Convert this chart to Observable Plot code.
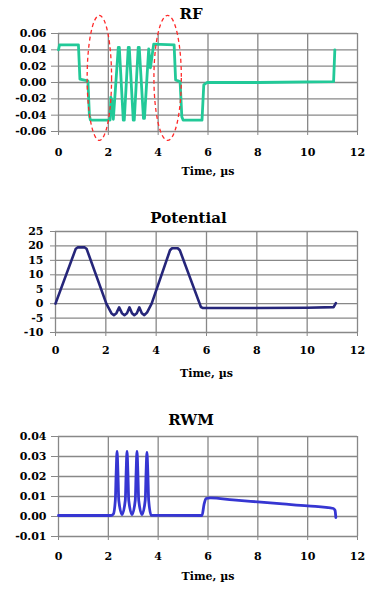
<!DOCTYPE html>
<html>
<head>
<meta charset="utf-8">
<script src="https://cdn.jsdelivr.net/npm/d3@7"></script>
<script src="https://cdn.jsdelivr.net/npm/@observablehq/plot@0.6"></script>
<style>
  html, body { margin: 0; padding: 0; background: #fff; }
  #charts svg { display: block; }
</style>
</head>
<body>
<div id="charts"></div>
<script>
// ---- shared x axis ----
const xTicks = [0, 2, 4, 6, 8, 10, 12];
const xTickLabels = ["0", "2", "4", "6", "8", "10", "12"];
const xAxisTitle = "Time, µs";

// ---- RF ----
const rfTitle = "RF";
const rfTicks = [-0.06, -0.04, -0.02, 0, 0.02, 0.04, 0.06];
const rfTickLabels = ["-0.06", "-0.04", "-0.02", "0.00", "0.02", "0.04", "0.06"];
const rfTime  = [0, 0.04, 0.80, 0.86, 1.18, 1.24, 1.28, 2.07, 2.10, 2.14, 2.20, 2.40, 2.44, 2.60, 2.64, 2.80, 2.84, 3.00, 3.04, 3.20, 3.24, 3.41, 3.45, 3.62, 3.69, 3.82, 4.64, 4.70, 4.88, 4.95, 5.00, 5.76, 5.83, 5.96, 8.00, 11.04, 11.09];
const rfValue = [0.040, 0.046, 0.046, 0.004, 0.002, -0.040, -0.046, -0.046, -0.018, -0.022, -0.045, 0.043, 0.043, -0.046, -0.046, 0.043, 0.043, -0.046, -0.046, 0.043, 0.043, -0.044, -0.044, 0.041, 0.018, 0.047, 0.046, 0.003, 0.001, -0.042, -0.046, -0.046, -0.003, 0.000, 0.000, 0.001, 0.040];
// red dashed ellipse annotations (centre time, centre value, radius in time, radius in value)
const ellipseT  = [1.66, 4.40];
const ellipseV  = [0.005, 0.005];
const ellipseRT = [0.49, 0.55];
const ellipseRV = [0.0765, 0.0765];

// ---- Potential ----
const potTitle = "Potential";
const potTicks = [-10, -5, 0, 5, 10, 15, 20, 25];
const potTickLabels = ["-10", "-5", "0", "5", "10", "15", "20", "25"];
const potTime  = [0, 0.80, 0.88, 1.16, 1.24, 2.02, 2.22, 2.32, 2.42, 2.53, 2.64, 2.74, 2.84, 2.94, 3.04, 3.13, 3.23, 3.33, 3.43, 3.53, 3.64, 3.82, 4.55, 4.63, 4.86, 4.94, 5.78, 5.86, 8.00, 10.00, 11.05, 11.14];
const potValue = [0, 18.9, 19.5, 19.5, 18.9, 0, -3.3, -4.0, -3.3, -1.3, -3.3, -4.0, -3.3, -1.3, -3.3, -4.0, -3.3, -1.3, -3.3, -4.0, -3.0, 0, 18.5, 19.2, 19.2, 18.5, -1.2, -1.5, -1.5, -1.4, -1.2, 0.2];

// ---- RWM ----
const rwmTitle = "RWM";
const rwmTicks = [-0.01, 0, 0.01, 0.02, 0.03, 0.04];
const rwmTickLabels = ["-0.01", "0.00", "0.01", "0.02", "0.03", "0.04"];
const rwmTime  = [0, 2.10, 2.20, 2.28, 2.315, 2.35, 2.385, 2.42, 2.55, 2.68, 2.715, 2.75, 2.785, 2.82, 2.95, 3.08, 3.115, 3.15, 3.185, 3.22, 3.35, 3.48, 3.515, 3.55, 3.585, 3.62, 3.72, 5.76, 5.84, 5.92, 6.10, 7.00, 8.00, 9.00, 10.00, 11.04, 11.10, 11.13];
const rwmValue = [0.0005, 0.0005, 0.0012, 0.008, 0.022, 0.0325, 0.022, 0.008, 0.0010, 0.008, 0.022, 0.0325, 0.022, 0.008, 0.0010, 0.008, 0.022, 0.0325, 0.022, 0.008, 0.0010, 0.008, 0.022, 0.0320, 0.022, 0.008, 0.0006, 0.0005, 0.0060, 0.0090, 0.0093, 0.0083, 0.0073, 0.0063, 0.0053, 0.0040, 0.0030, -0.0005];

function ellipseMark(index, scales) {
  const {x, y} = scales;
  const g = d3.create("svg:g")
    .attr("fill", "none")
    .attr("stroke", "#ff2a2a")
    .attr("stroke-width", 1.3)
    .attr("stroke-dasharray", "4,3");
  ellipseT.forEach((t, i) => {
    const cx = x(t), cy = y(ellipseV[i]);
    g.append("ellipse")
      .attr("cx", cx).attr("cy", cy)
      .attr("rx", Math.abs(x(t + ellipseRT[i]) - cx))
      .attr("ry", Math.abs(y(ellipseV[i] + ellipseRV[i]) - cy));
  });
  return g.node();
}

function chart(o) {
  const data = o.time.map((t, i) => ({t, v: o.value[i]}));
  const fmtX = d => xTickLabels[xTicks.indexOf(d)];
  const fmtY = d => o.yLabels[o.yTicks.indexOf(d)];
  const grid = "#888888";
  return Plot.plot({
    width: 365,
    height: o.height,
    marginTop: o.mt,
    marginBottom: o.mb,
    marginLeft: o.ml,
    marginRight: 8,
    style: {fontFamily: "'DejaVu Serif', serif", fontSize: "11px", fontWeight: "bold", background: "white", color: "black"},
    x: {domain: [0, 12]},
    y: {domain: o.yDomain},
    marks: [
      Plot.ruleX(xTicks, {stroke: grid, strokeWidth: 1.3}),
      Plot.ruleY(o.yTicks, {stroke: grid, strokeWidth: 1.3}),
      Plot.axisX(xTicks, {tickSize: 4, tickPadding: o.xPad, stroke: grid, fill: "black", tickFormat: fmtX, label: null}),
      Plot.axisY(o.yTicks, {tickSize: o.ySize, tickPadding: o.yPad, stroke: grid, fill: "black", tickFormat: fmtY, label: null}),
      Plot.line(data, {x: "t", y: "v", stroke: o.color, strokeWidth: o.sw, curve: o.curve}),
      ...(o.extra || []),
      Plot.text([o.title], {frameAnchor: "top", dy: o.titleDy, dx: o.titleDx, fontSize: 15, fontWeight: "bold"}),
      Plot.text([xAxisTitle], {frameAnchor: "bottom", dy: o.labelDy, fontSize: 11, fontWeight: "bold"})
    ]
  });
}

const root = document.getElementById("charts");
root.append(chart({
  height: 200, mt: 33, mb: 69, ml: 58,
  yDomain: [-0.06, 0.06], yTicks: rfTicks, yLabels: rfTickLabels, ySize: 7, yPad: 5, xPad: 13,
  time: rfTime, value: rfValue, color: "#22c998", sw: 2.8, curve: "linear",
  title: rfTitle, titleDy: -25, titleDx: -17, labelDy: 43,
  extra: [ellipseMark]
}));
root.append(chart({
  height: 200, mt: 31, mb: 68, ml: 55,
  yDomain: [-10, 25], yTicks: potTicks, yLabels: potTickLabels, ySize: 5, yPad: 7, xPad: 10,
  time: potTime, value: potValue, color: "#26267a", sw: 2.6, curve: "linear",
  title: potTitle, titleDy: -19, titleDx: -18, labelDy: 44
}));
root.append(chart({
  height: 192, mt: 36, mb: 56, ml: 58,
  yDomain: [-0.01, 0.04], yTicks: rwmTicks, yLabels: rwmTickLabels, ySize: 7, yPad: 5, xPad: 11.5,
  time: rwmTime, value: rwmValue, color: "#3636d2", sw: 2.8, curve: "monotone-x",
  title: rwmTitle, titleDy: -22, titleDx: -17, labelDy: 43
}));
</script>
</body>
</html>
